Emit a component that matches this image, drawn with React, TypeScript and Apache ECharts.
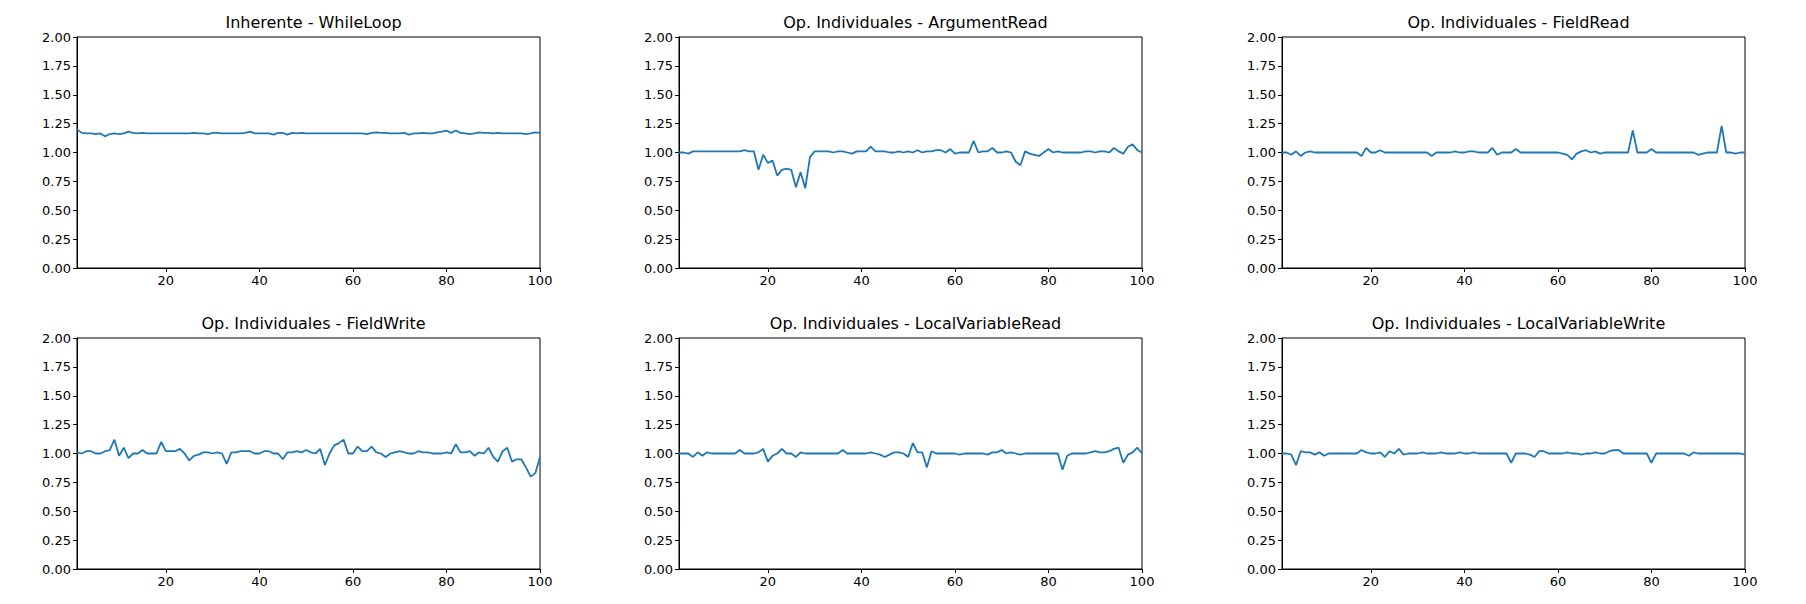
import React, { useEffect, useRef } from "react";
import * as echarts from "echarts";

const titles = [
  "Inherente - WhileLoop",
  "Op. Individuales - ArgumentRead",
  "Op. Individuales - FieldRead",
  "Op. Individuales - FieldWrite",
  "Op. Individuales - LocalVariableRead",
  "Op. Individuales - LocalVariableWrite",
];

const xTicks = [20, 40, 60, 80, 100];

const whileLoop = [
  1.2, 1.17, 1.165, 1.165, 1.16, 1.165, 1.14, 1.16, 1.165, 1.16, 1.165, 1.18, 1.17, 1.165, 1.17, 1.165, 1.165, 1.165, 1.165, 1.165,
  1.165, 1.165, 1.165, 1.165, 1.165, 1.17, 1.165, 1.165, 1.16, 1.17, 1.17, 1.165, 1.165, 1.165, 1.165, 1.165, 1.17, 1.18, 1.165, 1.165,
  1.165, 1.165, 1.155, 1.17, 1.17, 1.155, 1.17, 1.165, 1.17, 1.165, 1.165, 1.165, 1.165, 1.165, 1.165, 1.165, 1.165, 1.165, 1.165, 1.165,
  1.165, 1.165, 1.16, 1.17, 1.175, 1.17, 1.17, 1.165, 1.165, 1.165, 1.17, 1.155, 1.165, 1.165, 1.17, 1.165, 1.165, 1.175, 1.18, 1.19,
  1.17, 1.19, 1.17, 1.165, 1.16, 1.165, 1.175, 1.17, 1.17, 1.165, 1.17, 1.165, 1.165, 1.165, 1.165, 1.165, 1.16, 1.165, 1.175, 1.17,
];

const argumentRead = [
  1.0, 1.0, 0.99, 1.01, 1.01, 1.01, 1.01, 1.01, 1.01, 1.01, 1.01, 1.01, 1.01, 1.01, 1.02, 1.01, 1.01, 0.85, 0.98, 0.91,
  0.93, 0.8, 0.85, 0.86, 0.85, 0.7, 0.83, 0.69, 0.96, 1.01, 1.01, 1.01, 1.01, 1.0, 1.01, 1.01, 1.0, 0.99, 1.01, 1.01,
  1.01, 1.05, 1.01, 1.01, 1.01, 1.0, 1.0, 1.01, 1.0, 1.01, 1.0, 1.02, 1.0, 1.01, 1.01, 1.02, 1.02, 1.0, 1.03, 0.99,
  1.0, 1.0, 1.0, 1.1, 1.0, 1.01, 1.01, 1.04, 1.0, 1.0, 1.01, 1.0, 0.92, 0.89, 1.01, 0.99, 0.98, 0.97, 1.0, 1.03,
  1.0, 1.01, 1.0, 1.0, 1.0, 1.0, 1.0, 1.01, 1.01, 1.0, 1.01, 1.01, 1.0, 1.04, 1.01, 0.99, 1.05, 1.07, 1.02, 1.0,
];

const fieldRead = [
  1.0, 1.0, 0.98, 1.01, 0.97, 1.0, 1.01, 1.0, 1.0, 1.0, 1.0, 1.0, 1.0, 1.0, 1.0, 1.0, 1.0, 0.97, 1.04, 1.0,
  1.0, 1.02, 1.0, 1.0, 1.0, 1.0, 1.0, 1.0, 1.0, 1.0, 1.0, 1.0, 0.97, 1.0, 1.0, 1.0, 1.0, 1.01, 1.0, 1.0,
  1.01, 1.01, 1.0, 1.0, 1.0, 1.04, 0.98, 1.0, 1.0, 1.0, 1.03, 1.0, 1.0, 1.0, 1.0, 1.0, 1.0, 1.0, 1.0, 1.0,
  0.99, 0.98, 0.94, 0.99, 1.01, 1.02, 1.0, 1.01, 0.99, 1.0, 1.0, 1.0, 1.0, 1.0, 1.0, 1.19, 1.0, 1.0, 1.0, 1.03,
  1.0, 1.0, 1.0, 1.0, 1.0, 1.0, 1.0, 1.0, 1.0, 0.98, 0.99, 1.0, 1.0, 1.0, 1.23, 1.0, 1.0, 0.99, 1.0, 1.0,
];

const fieldWrite = [
  1.01, 1.0, 1.02, 1.02, 1.0, 1.0, 1.02, 1.03, 1.12, 0.98, 1.05, 0.96, 1.0, 1.0, 1.03, 1.0, 1.0, 1.0, 1.1, 1.02,
  1.02, 1.02, 1.04, 1.0, 0.94, 0.98, 0.99, 1.01, 1.01, 1.0, 1.01, 1.0, 0.91, 1.01, 1.01, 1.02, 1.02, 1.02, 1.0, 1.0,
  1.02, 1.02, 1.0, 1.0, 0.95, 1.01, 1.01, 1.02, 1.01, 1.03, 1.01, 1.0, 1.04, 0.9, 1.0, 1.07, 1.09, 1.12, 1.0, 1.0,
  1.06, 1.02, 1.02, 1.06, 1.01, 1.0, 0.97, 1.0, 1.01, 1.02, 1.01, 1.0, 1.0, 1.02, 1.01, 1.01, 1.0, 1.0, 1.0, 1.01,
  1.0, 1.08, 1.01, 1.01, 1.02, 0.98, 1.01, 1.0, 1.05, 0.97, 0.93, 1.02, 1.05, 0.93, 0.95, 0.95, 0.88, 0.8, 0.83, 0.97,
];

const localVariableRead = [
  1.0, 1.0, 1.0, 0.97, 1.01, 0.98, 1.01, 1.0, 1.0, 1.0, 1.0, 1.0, 1.0, 1.03, 1.0, 1.0, 1.0, 1.01, 1.04, 0.93,
  0.98, 1.0, 1.04, 1.0, 1.0, 0.97, 1.01, 1.0, 1.0, 1.0, 1.0, 1.0, 1.0, 1.0, 1.0, 1.03, 1.0, 1.0, 1.0, 1.0,
  1.0, 1.01, 1.0, 0.99, 0.97, 0.99, 1.01, 1.01, 1.0, 0.97, 1.09, 1.01, 1.01, 0.88, 1.02, 1.0, 1.0, 1.0, 1.0, 1.0,
  0.99, 1.0, 1.0, 1.0, 1.0, 1.0, 0.99, 1.01, 1.01, 1.03, 1.0, 1.01, 1.0, 0.99, 1.0, 1.0, 1.0, 1.0, 1.0, 1.0,
  1.0, 1.0, 0.86, 0.98, 1.0, 1.0, 1.0, 1.0, 1.01, 1.02, 1.01, 1.01, 1.02, 1.04, 1.05, 0.92, 0.99, 1.01, 1.05, 1.0,
];

const localVariableWrite = [
  1.0, 1.0, 0.99, 0.9, 1.02, 1.01, 1.01, 0.99, 1.01, 0.98, 1.0, 1.0, 1.0, 1.0, 1.0, 1.0, 1.0, 1.03, 1.01, 1.0,
  1.0, 1.01, 0.97, 1.02, 1.0, 1.04, 0.99, 1.0, 1.0, 1.0, 1.01, 1.0, 1.0, 1.0, 1.01, 1.0, 1.0, 1.0, 1.01, 1.0,
  1.0, 1.01, 1.0, 1.0, 1.0, 1.0, 1.0, 1.0, 1.0, 0.92, 1.0, 1.0, 1.0, 0.99, 0.97, 1.02, 1.02, 1.0, 1.0, 1.0,
  1.0, 1.01, 1.0, 1.0, 0.99, 1.0, 1.0, 1.01, 1.0, 1.0, 1.02, 1.03, 1.03, 1.0, 1.0, 1.0, 1.0, 1.0, 1.0, 0.92,
  1.0, 1.0, 1.0, 1.0, 1.0, 1.0, 1.0, 0.98, 1.01, 1.0, 1.0, 1.0, 1.0, 1.0, 1.0, 1.0, 1.0, 1.0, 1.0, 0.99,
];

const seriesData = [whileLoop, argumentRead, fieldRead, fieldWrite, localVariableRead, localVariableWrite];

const lefts = [77, 679, 1282];
const tops = [37, 338];
const gridW = 463;
const gridH = 231;

const App: React.FC = () => {
  const chartRef = useRef<HTMLDivElement>(null);

  useEffect(() => {
    if (!chartRef.current) return;
    const chart = echarts.init(chartRef.current, null, { renderer: "svg" });
    const font = "DejaVu Sans";
    const axisLine = { show: true, lineStyle: { color: "#000", width: 1 } };

    const grids = seriesData.map((_, i) => ({
      left: lefts[i % 3],
      top: tops[Math.floor(i / 3)],
      width: gridW,
      height: gridH,
      show: true,
      borderColor: "#000",
      borderWidth: 1,
      backgroundColor: "transparent",
    }));

    chart.setOption({
      animation: false,
      textStyle: { fontFamily: font },
      title: titles.map((t, i) => ({
        text: t,
        left: lefts[i % 3] + gridW / 2,
        top: tops[Math.floor(i / 3)] - 28,
        textAlign: "center",
        textStyle: { fontSize: 16, fontWeight: "normal", color: "#000", fontFamily: font },
      })),
      grid: grids,
      xAxis: seriesData.map((_, i) => ({
        type: "value",
        gridIndex: i,
        min: 1,
        max: 100,
        axisLine,
        splitLine: { show: false },
        axisTick: { show: true, inside: false, length: 4, customValues: xTicks, lineStyle: { color: "#000" } },
        axisLabel: { customValues: xTicks, color: "#000", fontSize: 13, margin: 6, fontFamily: font },
      })),
      yAxis: seriesData.map((_, i) => ({
        type: "value",
        gridIndex: i,
        min: 0,
        max: 2,
        interval: 0.25,
        axisLine,
        splitLine: { show: false },
        axisTick: { show: true, length: 4, lineStyle: { color: "#000" } },
        axisLabel: {
          color: "#000",
          fontSize: 13,
          margin: 6,
          fontFamily: font,
          formatter: (v: number) => v.toFixed(2),
        },
      })),
      series: seriesData.map((d, i) => ({
        type: "line",
        xAxisIndex: i,
        yAxisIndex: i,
        data: d.map((v, j) => [j + 1, v]),
        showSymbol: false,
        lineStyle: { color: "#1f77b4", width: 1.8 },
      })),
    });

    return () => {
      chart.dispose();
    };
  }, []);

  return (
    <div
      ref={chartRef}
      style={{ position: "fixed", left: 0, top: 0, width: 1806, height: 604, background: "#fff" }}
    />
  );
};

export default App;
